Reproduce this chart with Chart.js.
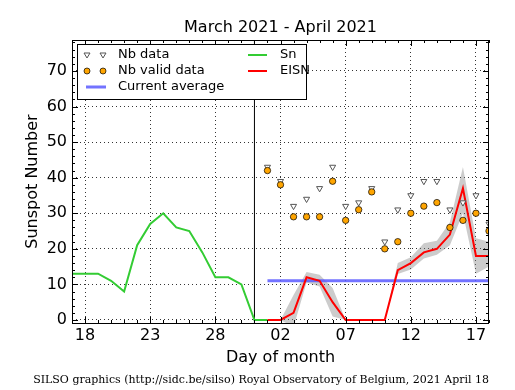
<!DOCTYPE html>
<html>
<head>
<meta charset="utf-8">
<script src="https://cdn.jsdelivr.net/npm/chart.js@4/dist/chart.umd.min.js"></script>
<style>
  body { margin: 0; background: #fff; }
  #wrap { width: 515px; height: 390px; }
</style>
</head>
<body>
<div id="wrap"><canvas id="silso" width="515" height="390"></canvas></div>
<script>
// Daily sunspot numbers, March 2021 - April 2021
const snDates = ['03-17','03-18','03-19','03-20','03-21','03-22','03-23','03-24',
                 '03-25','03-26','03-27','03-28','03-29','03-30','03-31','04-01'];
const snValues = [13, 13, 13, 11, 8, 21, 27, 30, 26, 25, 19, 12, 12, 10, 0, 0];

const eisnDates = ['04-01','04-02','04-03','04-04','04-05','04-06','04-07','04-08','04-09',
                   '04-10','04-11','04-12','04-13','04-14','04-15','04-16','04-17','04-18'];
const eisnValues = [0, 0, 2, 12, 11, 5, 0, 0, 0, 0, 14, 16, 19, 20, 24, 37, 18, 18];
const eisnUpper  = [0, 0, 7, 13.5, 12.7, 9, 0, 0, 0, 0, 16, 17.6, 21.6, 22.3, 27.5, 43, 23, 22];
const eisnLower  = [0, 0, -2, 10.5, 9.4, 1, 0, 0, 0, 0, 12.9, 14.2, 17.3, 18.3, 21, 30, 13, 15];
const nbData     = [43, 39, 32, 34, 37, 43, 32, 33, 37, 22, 31, 35, 39, 39, 31, 33, 35, 27];
const nbValid    = [42, 38, 29, 29, 29, 39, 28, 31, 36, 20, 22, 30, 32, 33, 26, 28, 30, 25];

const currentAverage = 11;
const splitDate = '03-31';

const xTickDates  = ['03-18','03-23','03-28','04-02','04-07','04-12','04-17'];
const xTickLabels = ['18', '23', '28', '02', '07', '12', '17'];
const yTicks = [0, 10, 20, 30, 40, 50, 60, 70];

const X_MIN = -1, X_MAX = 31;      // Mar 17 .. Apr 18
const Y_MIN = -0.85, Y_MAX = 78.7;

// day offset from March 18 2021
function dayIndex(md) {
  const [m, d] = md.split('-').map(Number);
  return (Date.UTC(2021, m - 1, d) - Date.UTC(2021, 2, 18)) / 864e5;
}
const pts = (dates, vals) => dates.map((d, i) => ({ x: dayIndex(d), y: vals[i] }));

const FONT = "'DejaVu Sans', sans-serif";
const GREEN = '#33cc33', RED = '#ff0000', BLUE = 'rgba(90,90,255,0.85)';

// frame, inward ticks and all loose text
const framePlugin = {
  id: 'frame',
  afterDraw(chart) {
    const { ctx, chartArea: a, scales: { x, y } } = chart;
    ctx.save();
    ctx.strokeStyle = '#000';
    ctx.lineWidth = 1;
    ctx.strokeRect(a.left + 0.5, a.top + 0.5, a.right - a.left - 1, a.bottom - a.top);

    ctx.beginPath();
    for (let d = Math.ceil(X_MIN); d <= X_MAX; d++) {
      const px = Math.round(x.getPixelForValue(d)) + 0.5;
      const len = xTickDates.some(t => dayIndex(t) === d) ? 6 : 3;
      ctx.moveTo(px, a.bottom); ctx.lineTo(px, a.bottom - len);
      ctx.moveTo(px, a.top); ctx.lineTo(px, a.top + len);
    }
    for (let v = 0; v <= Y_MAX; v += 2) {
      const py = Math.round(y.getPixelForValue(v)) + 0.5;
      const len = v % 10 === 0 ? 6 : 3;
      ctx.moveTo(a.left, py); ctx.lineTo(a.left + len, py);
      ctx.moveTo(a.right, py); ctx.lineTo(a.right - len, py);
    }
    ctx.stroke();

    ctx.fillStyle = '#000';
    ctx.textAlign = 'center';
    ctx.textBaseline = 'alphabetic';
    ctx.font = '16px ' + FONT;
    ctx.fillText('March 2021 - April 2021', (a.left + a.right) / 2, 32);
    ctx.fillText('Day of month', (a.left + a.right) / 2, 362);
    ctx.save();
    ctx.translate(37, (a.top + a.bottom) / 2);
    ctx.rotate(-Math.PI / 2);
    ctx.fillText('Sunspot Number', 0, 0);
    ctx.restore();

    ctx.font = "11px 'DejaVu Serif', serif";
    ctx.textAlign = 'right';
    ctx.fillText('SILSO graphics (http://sidc.be/silso) Royal Observatory of Belgium, 2021 April 18', a.right, 383);

    // legend
    const L = 77.5, T = 44.5, W = 229, H = 55;
    ctx.fillStyle = '#fff';
    ctx.fillRect(L, T, W, H);
    ctx.strokeRect(L, T, W, H);
    const rows = [55, 71, 87];
    ctx.font = '13px ' + FONT;
    ctx.textAlign = 'left';
    ctx.textBaseline = 'middle';
    ctx.fillStyle = '#000';
    ctx.fillText('Nb data', 118, rows[0]);
    ctx.fillText('Nb valid data', 118, rows[1]);
    ctx.fillText('Current average', 118, rows[2]);
    ctx.fillText('Sn', 280, rows[0]);
    ctx.fillText('EISN', 280, rows[1]);
    [87, 103].forEach(mx => {
      ctx.beginPath();
      ctx.moveTo(mx - 3, rows[0] - 2); ctx.lineTo(mx + 3, rows[0] - 2); ctx.lineTo(mx, rows[0] + 3);
      ctx.closePath();
      ctx.fillStyle = '#fff'; ctx.fill();
      ctx.strokeStyle = '#555'; ctx.lineWidth = 1; ctx.stroke();
      ctx.beginPath();
      ctx.arc(mx, rows[1], 3, 0, Math.PI * 2);
      ctx.fillStyle = '#ffa500'; ctx.fill();
      ctx.strokeStyle = '#000'; ctx.lineWidth = 0.7; ctx.stroke();
    });
    ctx.lineWidth = 3;
    ctx.strokeStyle = BLUE;
    ctx.beginPath(); ctx.moveTo(86, rows[2]); ctx.lineTo(106, rows[2]); ctx.stroke();
    ctx.lineWidth = 2;
    ctx.strokeStyle = GREEN;
    ctx.beginPath(); ctx.moveTo(248, rows[0]); ctx.lineTo(267, rows[0]); ctx.stroke();
    ctx.strokeStyle = RED;
    ctx.beginPath(); ctx.moveTo(248, rows[1]); ctx.lineTo(267, rows[1]); ctx.stroke();
    ctx.restore();
  }
};

const split = dayIndex(splitDate);
const avgStart = dayIndex(eisnDates[0]), avgEnd = dayIndex(eisnDates[eisnDates.length - 1]);

new Chart(document.getElementById('silso'), {
  type: 'line',
  data: {
    datasets: [
      { label: 'Nb valid data', data: pts(eisnDates, nbValid), showLine: false,
        pointStyle: 'circle', pointRadius: 3.2, pointBackgroundColor: '#ffa500',
        pointBorderColor: '#000', pointBorderWidth: 0.7 },
      { label: 'Nb data', data: pts(eisnDates, nbData), showLine: false,
        pointStyle: 'triangle', pointRotation: 180, pointRadius: 3.5,
        pointBackgroundColor: '#fff', pointBorderColor: '#555', pointBorderWidth: 1 },
      { label: 'EISN', data: pts(eisnDates, eisnValues), borderColor: RED, borderWidth: 2,
        pointRadius: 0, tension: 0 },
      { label: 'Current average', data: [{ x: avgStart, y: currentAverage }, { x: avgEnd, y: currentAverage }],
        borderColor: BLUE, borderWidth: 3, pointRadius: 0 },
      { label: 'Sn', data: pts(snDates, snValues), borderColor: GREEN, borderWidth: 2,
        pointRadius: 0, tension: 0 },
      { label: 'split', data: [{ x: split, y: Y_MIN }, { x: split, y: Y_MAX }],
        borderColor: '#000', borderWidth: 1, pointRadius: 0 },
      { label: 'EISN upper', data: pts(eisnDates, eisnUpper), borderWidth: 0, pointRadius: 0,
        fill: '+1', backgroundColor: 'rgba(128,128,128,0.4)' },
      { label: 'EISN lower', data: pts(eisnDates, eisnLower), borderWidth: 0, pointRadius: 0,
        fill: false }
    ]
  },
  options: {
    responsive: false,
    animation: false,
    devicePixelRatio: 1,
    layout: { padding: { top: 40, left: 0, right: 26, bottom: 0 } },
    plugins: { legend: { display: false }, tooltip: { enabled: false }, title: { display: false } },
    scales: {
      x: {
        type: 'linear', min: X_MIN, max: X_MAX,
        afterFit: s => { s.height = 67; },
        afterBuildTicks: s => { s.ticks = xTickDates.map(d => ({ value: dayIndex(d) })); },
        ticks: {
          font: { family: FONT, size: 16 }, color: '#000', padding: 3, maxRotation: 0,
          callback: (v) => xTickLabels[xTickDates.findIndex(d => dayIndex(d) === v)]
        },
        grid: { color: '#000', lineWidth: 0.8, drawTicks: false },
        border: { display: false, dash: [1, 3] }
      },
      y: {
        min: Y_MIN, max: Y_MAX,
        afterFit: s => { s.width = 72; },
        afterBuildTicks: s => { s.ticks = yTicks.map(v => ({ value: v })); },
        ticks: { font: { family: FONT, size: 16 }, color: '#000', padding: 5 },
        grid: { color: '#000', lineWidth: 0.8, drawTicks: false },
        border: { display: false, dash: [1, 3] }
      }
    }
  },
  plugins: [framePlugin]
});
</script>
</body>
</html>
